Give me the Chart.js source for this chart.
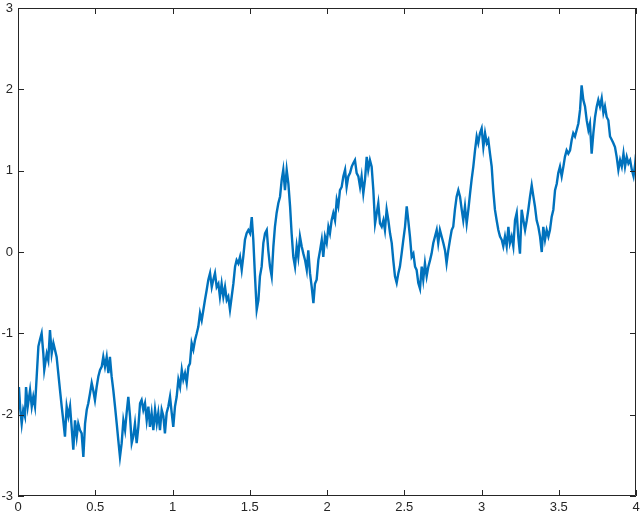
<!DOCTYPE html>
<html>
<head>
<meta charset="utf-8">
<script src="https://cdn.jsdelivr.net/npm/chart.js@4/dist/chart.umd.min.js"></script>
<style>
  html, body { margin: 0; padding: 0; background: #ffffff; }
  #wrap { width: 640px; height: 514px; position: relative; }
</style>
</head>
<body>
<div id="wrap"><canvas id="c" width="640" height="514"></canvas></div>
<script>
const times = [
  0.000,0.006,0.015,0.024,0.034,0.045,0.052,0.063,0.078,0.089,
  0.099,0.110,0.121,0.132,0.142,0.153,0.164,0.170,0.186,0.196,
  0.207,0.218,0.229,0.239,0.250,0.272,0.283,0.293,0.304,0.315,
  0.326,0.337,0.347,0.358,0.369,0.380,0.390,0.401,0.412,0.423,
  0.434,0.445,0.455,0.466,0.477,0.487,0.498,0.509,0.520,0.531,
  0.542,0.552,0.563,0.574,0.585,0.595,0.606,0.617,0.628,0.639,
  0.649,0.660,0.671,0.682,0.693,0.703,0.714,0.725,0.736,0.746,
  0.757,0.768,0.779,0.790,0.800,0.811,0.822,0.833,0.844,0.854,
  0.865,0.876,0.887,0.898,0.908,0.919,0.930,0.941,0.951,0.962,
  0.973,0.984,0.995,1.005,1.016,1.027,1.038,1.049,1.060,1.070,
  1.081,1.092,1.103,1.113,1.124,1.135,1.146,1.157,1.167,1.178,
  1.189,1.200,1.210,1.221,1.232,1.243,1.254,1.264,1.275,1.286,
  1.297,1.307,1.318,1.329,1.340,1.351,1.361,1.372,1.383,1.394,
  1.405,1.415,1.426,1.437,1.448,1.458,1.469,1.480,1.491,1.502,
  1.513,1.523,1.534,1.545,1.556,1.566,1.577,1.588,1.599,1.610,
  1.620,1.631,1.642,1.653,1.663,1.674,1.685,1.696,1.707,1.717,
  1.728,1.739,1.750,1.761,1.771,1.782,1.793,1.804,1.814,1.825,
  1.836,1.847,1.858,1.869,1.879,1.890,1.901,1.912,1.922,1.933,
  1.944,1.955,1.966,1.976,1.987,1.998,2.009,2.019,2.030,2.041,
  2.052,2.063,2.073,2.084,2.095,2.106,2.117,2.127,2.138,2.149,
  2.160,2.170,2.181,2.192,2.203,2.214,2.224,2.235,2.246,2.257,
  2.267,2.278,2.289,2.300,2.311,2.322,2.332,2.343,2.354,2.365,
  2.375,2.386,2.397,2.408,2.419,2.429,2.440,2.451,2.462,2.472,
  2.483,2.494,2.505,2.516,2.526,2.537,2.548,2.559,2.570,2.580,
  2.591,2.602,2.613,2.623,2.634,2.645,2.656,2.667,2.677,2.688,
  2.699,2.710,2.720,2.731,2.742,2.753,2.764,2.774,2.785,2.796,
  2.807,2.817,2.828,2.839,2.850,2.861,2.872,2.882,2.893,2.904,
  2.915,2.926,2.936,2.947,2.958,2.969,2.979,2.990,3.001,3.012,
  3.023,3.034,3.044,3.055,3.066,3.076,3.087,3.098,3.109,3.120,
  3.131,3.141,3.152,3.163,3.174,3.184,3.195,3.206,3.217,3.228,
  3.238,3.249,3.260,3.271,3.282,3.293,3.303,3.314,3.325,3.336,
  3.346,3.357,3.368,3.379,3.390,3.400,3.411,3.422,3.433,3.443,
  3.454,3.465,3.476,3.487,3.497,3.508,3.519,3.530,3.540,3.551,
  3.562,3.573,3.584,3.594,3.605,3.616,3.627,3.638,3.648,3.659,
  3.670,3.681,3.692,3.702,3.713,3.724,3.735,3.746,3.756,3.767,
  3.778,3.789,3.799,3.810,3.821,3.832,3.843,3.853,3.864,3.875,
  3.886,3.897,3.908,3.919,3.929,3.940,3.951,3.962,3.973,3.984,
  3.995,4.000
];
const values = [
  -1.70,-1.66,-1.94,-2.11,-1.94,-2.02,-1.66,-1.90,-1.70,-1.90,
  -1.78,-1.90,-1.53,-1.16,-1.08,-1.00,-1.25,-1.45,-1.25,-1.33,
  -0.96,-1.25,-1.12,-1.20,-1.29,-1.70,-1.90,-2.07,-2.27,-1.90,
  -2.02,-1.90,-2.15,-2.43,-2.07,-2.27,-2.11,-2.19,-2.23,-2.52,
  -2.11,-1.94,-1.86,-1.74,-1.61,-1.70,-1.82,-1.66,-1.53,-1.45,
  -1.41,-1.29,-1.41,-1.29,-1.49,-1.29,-1.53,-1.70,-1.90,-2.11,
  -2.31,-2.52,-2.35,-2.07,-2.19,-1.98,-1.78,-2.02,-2.35,-2.27,
  -2.11,-2.35,-2.15,-1.86,-1.82,-1.94,-1.86,-2.07,-1.90,-2.15,
  -1.98,-2.19,-1.94,-2.11,-1.98,-2.19,-1.94,-2.02,-2.23,-1.98,
  -1.90,-1.78,-1.98,-2.15,-1.90,-1.78,-1.57,-1.66,-1.45,-1.57,
  -1.49,-1.61,-1.41,-1.37,-1.12,-1.20,-1.08,-1.00,-0.92,-0.75,
  -0.84,-0.71,-0.59,-0.47,-0.34,-0.26,-0.43,-0.34,-0.26,-0.43,
  -0.39,-0.55,-0.39,-0.55,-0.43,-0.59,-0.55,-0.71,-0.55,-0.39,
  -0.18,-0.10,-0.14,-0.06,-0.22,-0.06,0.15,0.23,0.27,0.23,
  0.43,0.15,-0.30,-0.71,-0.59,-0.30,-0.18,0.11,0.23,0.27,
  0.02,-0.18,-0.30,0.07,0.31,0.48,0.60,0.68,0.89,1.01,
  0.76,1.01,0.84,0.56,0.23,-0.06,-0.18,0.07,-0.06,0.19,
  0.07,-0.02,-0.10,-0.22,0.02,-0.26,-0.43,-0.63,-0.39,-0.34,
  -0.10,0.02,0.15,-0.06,0.19,0.11,0.31,0.23,0.39,0.48,
  0.39,0.64,0.56,0.76,0.80,0.93,1.01,0.80,0.93,0.97,
  1.05,1.09,1.13,0.97,0.93,0.80,0.93,0.72,0.89,1.17,
  1.01,1.13,1.05,0.76,0.35,0.48,0.60,0.35,0.31,0.39,
  0.27,0.52,0.39,0.23,0.11,-0.10,-0.30,-0.38,-0.26,-0.18,
  -0.02,0.15,0.31,0.56,0.39,0.19,-0.06,-0.02,-0.18,-0.22,
  -0.38,-0.45,-0.18,-0.34,-0.14,-0.30,-0.18,-0.10,-0.02,0.11,
  0.19,0.27,0.11,0.27,0.19,0.11,0.02,-0.14,0.02,0.15,
  0.27,0.31,0.52,0.68,0.76,0.68,0.52,0.39,0.56,0.35,
  0.52,0.72,0.89,1.05,1.25,1.42,1.34,1.46,1.52,1.29,
  1.46,1.34,1.38,1.21,1.05,0.76,0.52,0.39,0.27,0.19,
  0.15,0.07,0.19,0.07,0.31,0.11,0.19,0.07,0.39,0.48,
  0.19,-0.02,0.52,0.39,0.27,0.39,0.52,0.68,0.82,0.68,
  0.56,0.39,0.31,0.19,0.00,0.31,0.15,0.27,0.19,0.27,
  0.43,0.52,0.76,0.84,0.97,1.05,0.93,1.05,1.17,1.25,
  1.21,1.25,1.38,1.46,1.42,1.50,1.58,1.75,2.05,1.87,
  1.79,1.62,1.50,1.58,1.21,1.46,1.66,1.79,1.87,1.79,
  1.89,1.71,1.79,1.66,1.62,1.42,1.38,1.34,1.29,1.17,
  1.01,1.13,1.05,1.21,1.05,1.17,1.09,1.13,1.01,0.93,
  1.09,1.20
];
const xTickValues = [0, 0.5, 1, 1.5, 2, 2.5, 3, 3.5, 4];
const xTickLabels = ['0', '0.5', '1', '1.5', '2', '2.5', '3', '3.5', '4'];
const yTickValues = [-3, -2, -1, 0, 1, 2, 3];
const yTickLabels = ['-3', '-2', '-1', '0', '1', '2', '3'];

const points = times.map((t, i) => ({ x: t, y: values[i] }));
const AXIS_COLOR = '#262626';

const boxPlugin = {
  id: 'matlabBox',
  afterDatasetsDraw(chart) {
    const { ctx, chartArea, scales } = chart;
    const { left, top, right, bottom } = chartArea;
    ctx.save();
    ctx.strokeStyle = AXIS_COLOR;
    ctx.lineWidth = 1;
    ctx.beginPath();
    ctx.rect(left + 0.5, top + 0.5, right - left - 1, bottom - top - 1);
    ctx.stroke();
    const tl = 6;
    ctx.beginPath();
    scales.x.ticks.forEach(t => {
      const px = Math.round(scales.x.getPixelForValue(t.value)) + 0.5;
      ctx.moveTo(px, bottom); ctx.lineTo(px, bottom - tl);
      ctx.moveTo(px, top); ctx.lineTo(px, top + tl);
    });
    scales.y.ticks.forEach(t => {
      const py = Math.round(scales.y.getPixelForValue(t.value)) + 0.5;
      ctx.moveTo(left, py); ctx.lineTo(left + tl, py);
      ctx.moveTo(right, py); ctx.lineTo(right - tl, py);
    });
    ctx.stroke();
    ctx.restore();
  }
};

new Chart(document.getElementById('c'), {
  type: 'line',
  data: {
    datasets: [{
      data: points,
      borderColor: '#0072BD',
      borderWidth: 2.4,
      pointRadius: 0,
      tension: 0,
      fill: false
    }]
  },
  options: {
    responsive: false,
    animation: false,
    parsing: true,
    layout: { padding: { top: 8, right: 4, left: 0, bottom: 0 } },
    plugins: { legend: { display: false }, tooltip: { enabled: false } },
    scales: {
      x: {
        type: 'linear',
        min: 0, max: 4,
        afterBuildTicks: s => { s.ticks = xTickValues.map(v => ({ value: v })); },
        afterFit: s => { s.height = 18; s.paddingLeft = 0; s.paddingRight = 0; },
        grid: { display: false, drawTicks: false },
        border: { display: false },
        ticks: {
          padding: 4,
          color: AXIS_COLOR,
          font: { family: 'Liberation Sans', size: 13 },
          maxRotation: 0,
          autoSkip: false,
          callback: (v) => xTickLabels[xTickValues.indexOf(v)]
        }
      },
      y: {
        type: 'linear',
        min: -3, max: 3,
        afterBuildTicks: s => { s.ticks = yTickValues.map(v => ({ value: v })); },
        afterFit: s => { s.width = 18; s.paddingTop = 0; s.paddingBottom = 0; },
        grid: { display: false, drawTicks: false },
        border: { display: false },
        ticks: {
          padding: 5,
          color: AXIS_COLOR,
          font: { family: 'Liberation Sans', size: 13 },
          autoSkip: false,
          callback: (v) => yTickLabels[yTickValues.indexOf(v)]
        }
      }
    }
  },
  plugins: [boxPlugin]
});
</script>
</body>
</html>
